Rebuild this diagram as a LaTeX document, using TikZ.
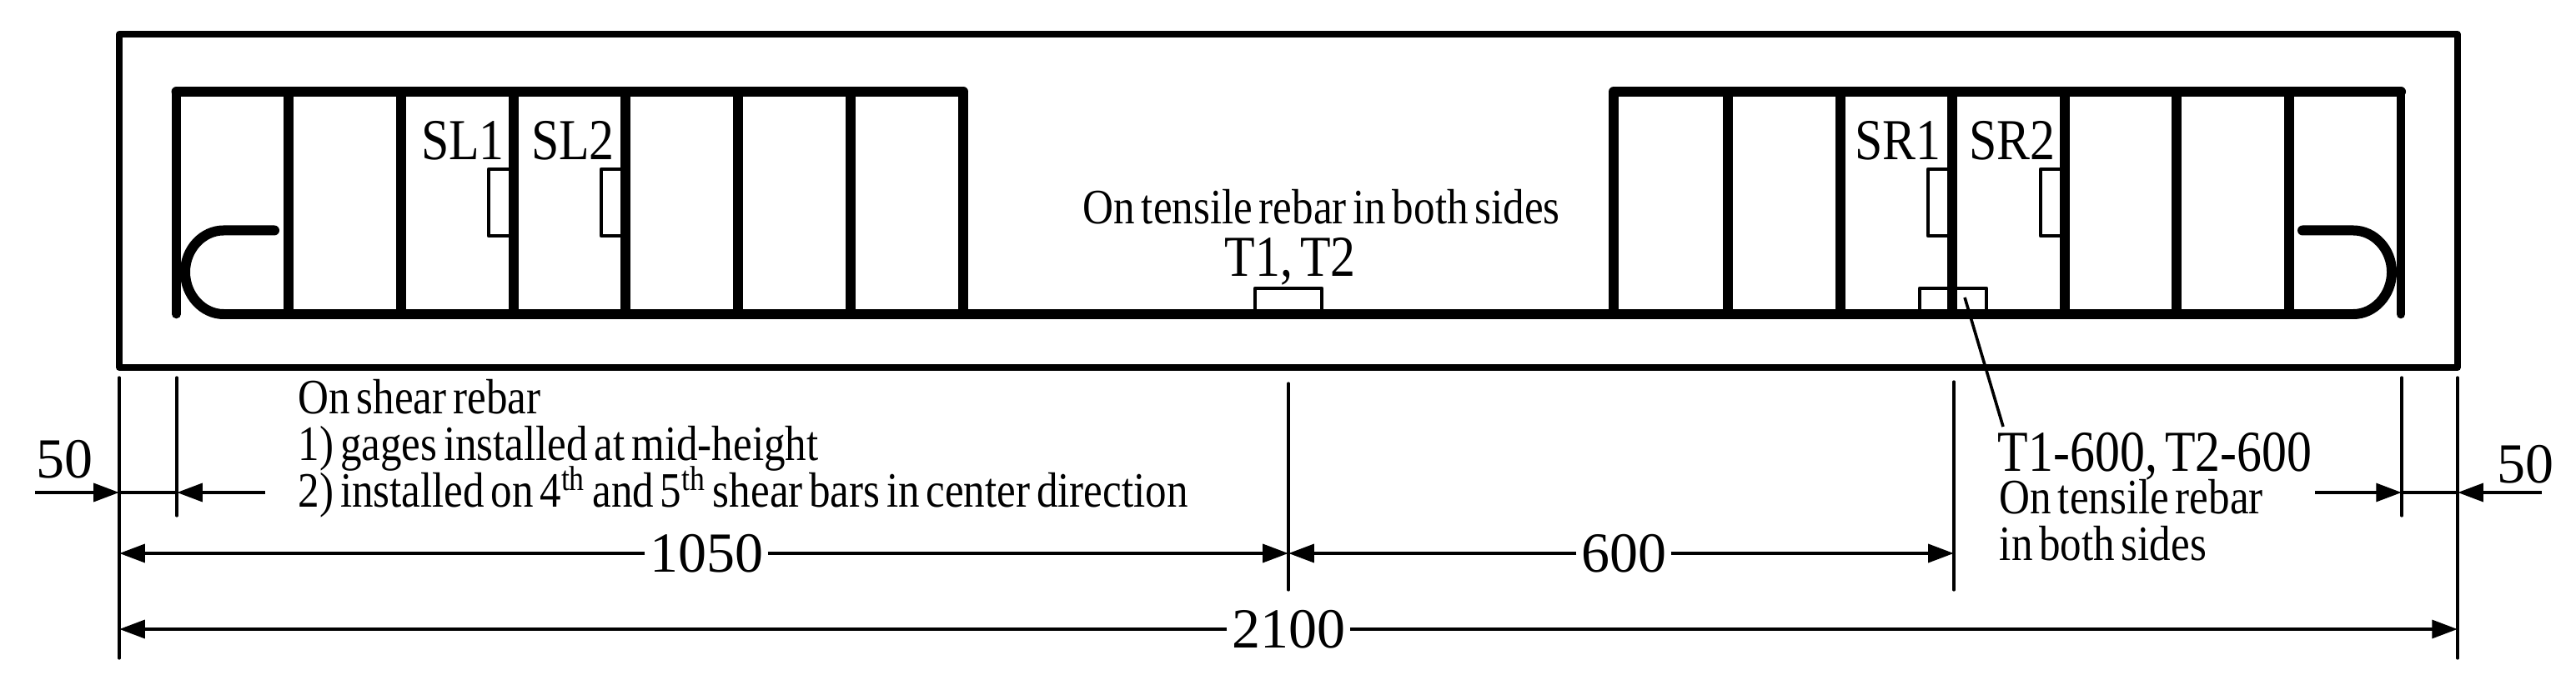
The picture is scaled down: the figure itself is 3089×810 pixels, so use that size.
\documentclass[tikz,border=0pt]{standalone}
\usepackage{fontspec}
\setmainfont{Liberation Serif}[FakeStretch=0.86,WordSpace=0.6]
\newfontfamily\numfont{Liberation Serif}
\usetikzlibrary{arrows.meta}
\tikzset{
  bar-main/.style={line width=3pt, line cap=round, line join=round},
  bar-hook/.style={line width=3pt, line cap=round},
  bar-end/.style={line width=2.65pt, line cap=round},
  bar-stirrup/.style={line width=3pt},
  slab-outline/.style={line width=1.9pt, line join=round},
  gage-box/.style={line width=1.15pt, line join=round},
  leader/.style={line width=0.9pt},
  dim-ext/.style={line width=0.8pt, line cap=round},
  dim-line/.style={line width=1.15pt},
  dim-arrow/.style={dim-line, -{Triangle[length=7.7pt,width=5.4pt]}},
  txt-big/.style={inner sep=0pt, anchor=base, font=\fontsize{17.4}{17.4}\selectfont},
  txt-small/.style={inner sep=0pt, anchor=base west, font=\fontsize{14.85}{14.85}\selectfont},
  txt-num/.style={inner sep=1.2pt, font=\numfont\fontsize{17}{17}\selectfont}
}

\begin{document}
\begin{tikzpicture}[x=0.25pt,y=-0.25pt]
  \useasboundingbox (0,0) rectangle (3089,810);
  % Slab outline
  \draw[slab-outline] (143,41) rectangle (2947,441);
  % Rebar
  \draw[bar-end] (211.5,377) -- (211.5,110);
  \draw[bar-main] (211.5,110) -- (1155,110);
  \draw[bar-main] (1935,110) -- (2879,110);
  \draw[bar-end] (2879,377) -- (2879,110);
  \draw[bar-main] (268,377) -- (2822,377);
  \draw[bar-hook] (329,276.5) -- (268,276.5) .. controls (243,276.5) and (222,299) .. (222,326.5)
    .. controls (222,354) and (243,377) .. (268,377);
  \draw[bar-hook] (2761,276.5) -- (2822,276.5) .. controls (2847,276.5) and (2868,299) .. (2868,326.5)
    .. controls (2868,354) and (2847,377) .. (2822,377);
  % Stirrups
  \draw[bar-stirrup] (346,110) -- (346,377);
  \draw[bar-stirrup] (481,110) -- (481,377);
  \draw[bar-stirrup] (616,110) -- (616,377);
  \draw[bar-stirrup] (750,110) -- (750,377);
  \draw[bar-stirrup] (885,110) -- (885,377);
  \draw[bar-stirrup] (1020,110) -- (1020,377);
  \draw[bar-stirrup] (1155,110) -- (1155,377);
  \draw[bar-stirrup] (1935,110) -- (1935,377);
  \draw[bar-stirrup] (2072,110) -- (2072,377);
  \draw[bar-stirrup] (2207,110) -- (2207,377);
  \draw[bar-stirrup] (2341,110) -- (2341,377);
  \draw[bar-stirrup] (2476,110) -- (2476,377);
  \draw[bar-stirrup] (2610,110) -- (2610,377);
  \draw[bar-stirrup] (2745,110) -- (2745,377);
  % Gages
  \draw[gage-box] (616,203) -- (586,203) -- (586,283) -- (616,283);
  \draw[gage-box] (750,203) -- (721,203) -- (721,283) -- (750,283);
  \draw[gage-box] (2341,203) -- (2312,203) -- (2312,283) -- (2341,283);
  \draw[gage-box] (2476,203) -- (2447,203) -- (2447,283) -- (2476,283);
  \draw[gage-box] (1505,377) -- (1505,346) -- (1585,346) -- (1585,377);
  \draw[gage-box] (2302,377) -- (2302,346) -- (2382,346) -- (2382,377);
  % Gage labels
  \node[txt-big] (LabelSL1) at (555,192) {SL1};
  \node[txt-big] (LabelSL2) at (687,192) {SL2};
  \node[txt-big] (LabelSR1) at (2276,192) {SR1};
  \node[txt-big] (LabelSR2) at (2413,192) {SR2};
  \node[txt-big] (LabelT) at (1547,332) {T1, T2};
  \node[txt-small] (NoteT) at (1298,269) {On tensile rebar in both sides};
  % Note on shear rebar
  \node[txt-small] (NoteS0) at (357,497) {On shear rebar};
  \node[txt-small] (NoteS1) at (357,553) {1) gages installed at mid-height};
  \node[txt-small] (NoteS2) at (357,609) {2) installed on 4\textsuperscript{th} and 5\textsuperscript{th} shear bars in center direction};
  % Note on T1-600
  \node[txt-big, anchor=base west] (LabelT600) at (2395,566) {T1-600, T2-600};
  \node[txt-small] (NoteT0) at (2397,616) {On tensile rebar};
  \node[txt-small] (NoteT1) at (2397,672) {in both sides};
  \coordinate (LeaderA) at (2356,357);
  \coordinate (LeaderB) at (2402,512);
  \draw[leader] (LeaderA) -- (LeaderB);
  % Extension lines
  \draw[dim-ext] (143,453) -- (143,790);
  \draw[dim-ext] (212,453) -- (212,619);
  \draw[dim-ext] (1545,460) -- (1545,708);
  \draw[dim-ext] (2343,458) -- (2343,708);
  \draw[dim-ext] (2880,453) -- (2880,619);
  \draw[dim-ext] (2947,453) -- (2947,790);
  % Dimensions
  \coordinate (A1) at (143,664);
  \coordinate (A2) at (1545,664);
  \coordinate (A3) at (2343,664);
  \coordinate (B1) at (143,755);
  \coordinate (B2) at (2947,755);
  \coordinate (C1) at (42,591);
  \coordinate (C2) at (143,591);
  \coordinate (C3) at (212,591);
  \coordinate (C4) at (318,591);
  \coordinate (D1) at (2776,591);
  \coordinate (D2) at (2880,591);
  \coordinate (D3) at (2947,591);
  \coordinate (D4) at (3048,591);
  \node[txt-num] (Dim1050) at (847,664) {1050};
  \node[txt-num] (Dim600) at (1947,664) {600};
  \node[txt-num] (Dim2100) at (1545,755) {2100};
  \node[txt-num, anchor=base] (Dim50L) at (77,573) {50};
  \node[txt-num, anchor=base] (Dim50R) at (3028,580) {50};
  \draw[dim-arrow] (Dim1050) -- (A1);
  \draw[dim-arrow] (Dim1050) -- (A2);
  \draw[dim-arrow] (Dim600) -- (A2);
  \draw[dim-arrow] (Dim600) -- (A3);
  \draw[dim-arrow] (Dim2100) -- (B1);
  \draw[dim-arrow] (Dim2100) -- (B2);
  \draw[dim-arrow] (C1) -- (C2);
  \draw[dim-line] (C2) -- (C3);
  \draw[dim-arrow] (C4) -- (C3);
  \draw[dim-arrow] (D1) -- (D2);
  \draw[dim-line] (D2) -- (D3);
  \draw[dim-arrow] (D4) -- (D3);
\end{tikzpicture}
\end{document}
